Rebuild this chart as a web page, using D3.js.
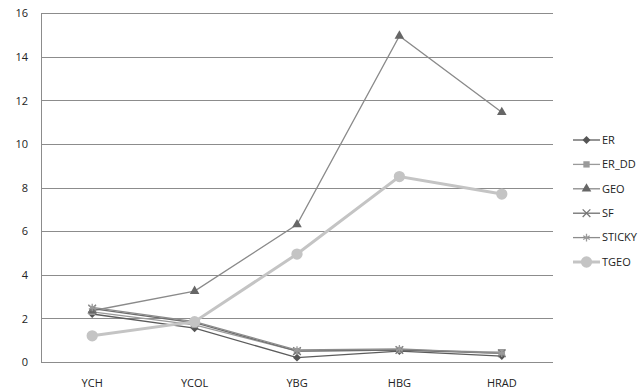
<!DOCTYPE html>
<html>
<head>
<meta charset="utf-8">
<script src="https://cdn.jsdelivr.net/npm/d3@7"></script>
<style>
  body { margin: 0; background: #fff; }
  text { font-family: "Open Sans", "Liberation Sans", sans-serif; font-size: 11px; fill: #222; }
</style>
</head>
<body>
<div id="chart"></div>
<script>
var categories = ["YCH", "YCOL", "YBG", "HBG", "HRAD"];
var yTicks = [0, 2, 4, 6, 8, 10, 12, 14, 16];

var erValues     = [2.2, 1.55, 0.2, 0.5, 0.27];
var erDDValues   = [2.3, 1.7, 0.5, 0.55, 0.45];
var geoValues    = [2.35, 3.25, 6.3, 14.95, 11.45];
var sfValues     = [2.45, 1.8, 0.5, 0.55, 0.4];
var stickyValues = [2.5, 1.85, 0.55, 0.6, 0.4];
var tgeoValues   = [1.2, 1.85, 4.95, 8.5, 7.7];

var series = [
  { name: "ER", values: erValues, color: "#5c5c5c", mark: "#555", symbol: d3.symbolDiamond2, width: 1.3 },
  { name: "ER_DD", values: erDDValues, color: "#9a9a9a", mark: "#9a9a9a", symbol: d3.symbolSquare, width: 1.3 },
  { name: "GEO", values: geoValues, color: "#8a8a8a", mark: "#666", symbol: d3.symbolTriangle, width: 1.3 },
  { name: "SF", values: sfValues, color: "#6e6e6e", mark: "#777", symbol: d3.symbolX, width: 1.3 },
  { name: "STICKY", values: stickyValues, color: "#8c8c8c", mark: "#9a9a9a", symbol: d3.symbolAsterisk, width: 1.3 },
  { name: "TGEO", values: tgeoValues, color: "#c4c4c4", mark: "#c4c4c4", symbol: d3.symbolCircle, width: 3 }
];

var margin = { top: 13, right: 87, bottom: 30, left: 41 },
    width = 640 - margin.left - margin.right,
    height = 392 - margin.top - margin.bottom;

var x = d3.scaleBand().domain(categories).range([0, width]);
var y = d3.scaleLinear().domain([0, 16]).range([349, 0]);

var svg = d3.select("#chart").append("svg")
  .attr("width", 640)
  .attr("height", 392)
  .append("g")
  .attr("transform", "translate(" + margin.left + "," + margin.top + ")");

// grid lines
svg.selectAll(".grid")
  .data(yTicks)
  .enter().append("line")
  .attr("x1", 0)
  .attr("x2", width)
  .attr("y1", function (d) { return Math.round(y(d)) + 0.5; })
  .attr("y2", function (d) { return Math.round(y(d)) + 0.5; })
  .attr("stroke", "#8c8c8c")
  .attr("stroke-width", 1);

// y axis
var yAxis = svg.append("g")
  .call(d3.axisLeft(y).tickValues(yTicks).tickSize(0).tickPadding(13));
yAxis.select(".domain").attr("stroke", "#8c8c8c");
yAxis.selectAll("text").attr("dy", "0.35em");

// x axis labels
var xAxis = svg.append("g")
  .attr("transform", "translate(0," + y(0) + ")")
  .call(d3.axisBottom(x).tickSize(0).tickPadding(17));
xAxis.select(".domain").remove();

var line = d3.line()
  .x(function (d, i) { return x(categories[i]) + x.bandwidth() / 2; })
  .y(function (d) { return y(d); });

series.forEach(function (s) {
  svg.append("path")
    .datum(s.values)
    .attr("fill", "none")
    .attr("stroke", s.color)
    .attr("stroke-width", s.width)
    .attr("d", line);
});

function drawSymbol(sel, s) {
  var isLine = s.symbol === d3.symbolX || s.symbol === d3.symbolAsterisk;
  var size = s.symbol === d3.symbolCircle ? 100 : (isLine ? 40 : 40);
  sel.attr("d", d3.symbol().type(s.symbol).size(size))
    .attr("fill", isLine ? "none" : s.mark)
    .attr("stroke", isLine ? s.mark : "none")
    .attr("stroke-width", isLine ? 1.3 : 0);
}

series.forEach(function (s) {
  svg.selectAll(".m-" + s.name)
    .data(s.values)
    .enter().append("path")
    .attr("transform", function (d, i) {
      return "translate(" + (x(categories[i]) + x.bandwidth() / 2) + "," + y(d) + ")";
    })
    .call(drawSymbol, s);
});

// legend
var legend = d3.select("svg").append("g")
  .attr("transform", "translate(573,140)");
var rows = legend.selectAll("g")
  .data(series)
  .enter().append("g")
  .attr("transform", function (d, i) { return "translate(0," + (i * 24.4) + ")"; });
rows.append("line")
  .attr("x1", 0).attr("x2", 27)
  .attr("stroke", function (d) { return d.color; })
  .attr("stroke-width", function (d) { return d.width; });
rows.append("path")
  .attr("transform", "translate(13.5,0)")
  .each(function (d) { d3.select(this).call(drawSymbol, d); });
rows.append("text")
  .attr("x", 29)
  .attr("dy", "0.35em")
  .text(function (d) { return d.name; });
</script>
</body>
</html>
